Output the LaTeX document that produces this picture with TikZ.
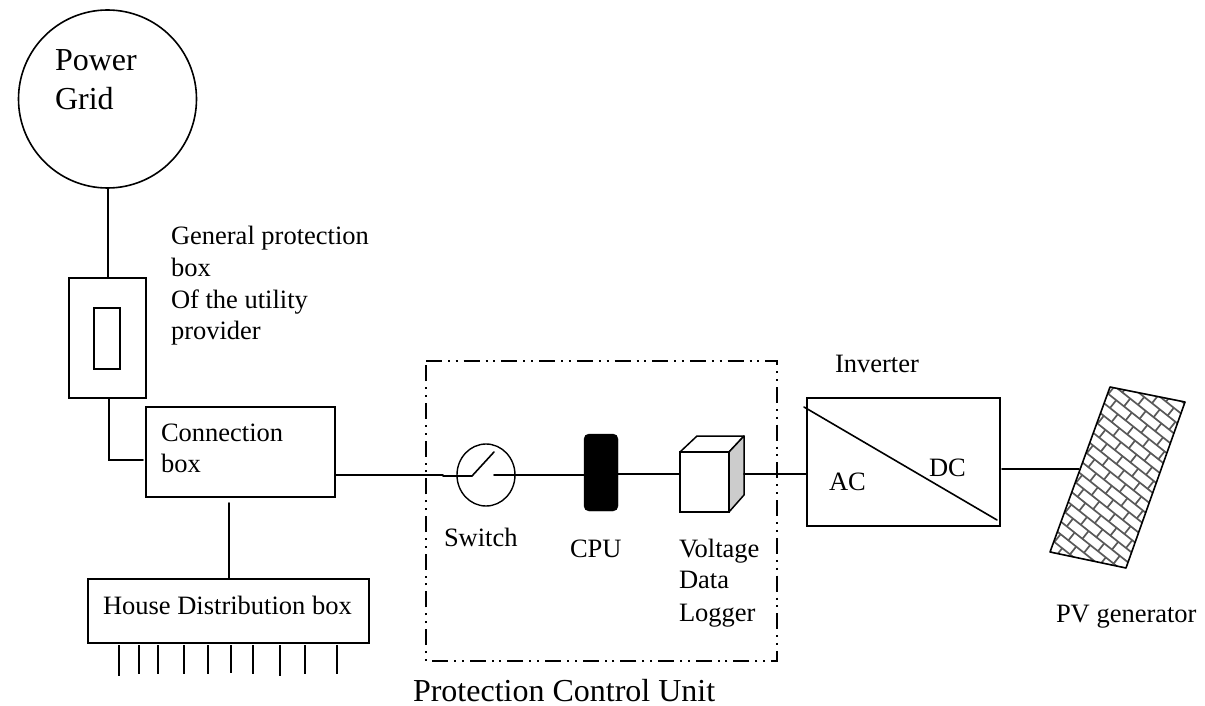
\documentclass[tikz,border=0pt]{standalone}
\usepackage{fontspec}
\setmainfont{Liberation Serif}
\usetikzlibrary{calc,shapes.geometric}
\newcommand{\fsmall}{\fontsize{26.5}{32}\selectfont}
\newcommand{\flarge}{\fontsize{32}{40}\selectfont}
\tikzset{
  wire/.style={line width=1.6pt,line cap=round},
  boxs/.style={draw,line width=1.6pt},
  lab/.style={anchor=base west,inner sep=0pt,outer sep=0pt,font=\fsmall},
  labl/.style={anchor=base west,inner sep=0pt,outer sep=0pt,font=\flarge},
  plain/.style={inner sep=0pt,outer sep=0pt},
}
\begin{document}
\begin{tikzpicture}[x=1pt,y=-1pt]
\useasboundingbox (0,0) rectangle (1205,706);
% grid
\node[draw,circle,line width=1.6pt,minimum size=178pt,plain] (grid) at (107.5,99) {};
\node[labl] (gridA) at (55,71) {Power};
\node[labl] (gridB) at (55,110) {Grid};
% general protection
\node[boxs,plain,minimum width=77pt,minimum height=120pt] (gen) at (107.5,338) {};
\node[boxs,plain,minimum width=26pt,minimum height=61pt] (genin) at (107,338.5) {};
\node[lab] (t1) at (171,244) {General protection};
\node[lab] (t2) at (171,276) {box};
\node[lab] (t3) at (171,308) {Of the utility};
\node[lab] (t4) at (171,339) {provider};
% connection box
\node[boxs,plain,minimum width=189pt,minimum height=90pt] (conn) at (240.5,452) {};
\node[lab] (t5) at (161,441) {Connection};
\node[lab] (t6) at (161,472) {box};
% house
\node[boxs,plain,minimum width=281pt,minimum height=64pt] (house) at (228.5,611) {};
\node[lab] (t7) at (103,614) {House Distribution box};
% wires
\draw[wire] (grid.south -| 108,0) -- (gen.north -| 108,0);
\coordinate (c1) at (109,460);
\coordinate (c2) at (143,460);
\draw[wire] (gen.south -| c1) -- (c1) -- (c2);
\coordinate (c3) at (229,503);
\draw[wire] (c3) -- (house.north -| c3);
\foreach \x/\e in {119/676,139/674,158/674,184/674,208/674,231/673,253/674,280/676,305/674,337/674}
  \draw[line width=1.5pt] (\x,645) -- (\x,\e);
% dash box
\node[plain,minimum width=351pt,minimum height=300pt] (pcu) at (601.5,511) {};
\draw[line width=1.7pt,dash pattern=on 16pt off 6pt on 2pt off 5.7pt on 2pt off 6pt]
  (pcu.north west) -- (pcu.north east) -- (pcu.south east) -- (pcu.south west) -- cycle;
\node[labl] (t8) at (413,701) {Protection Control Unit};
% switch
\node[draw,ellipse,plain,line width=1.4pt,minimum width=58pt,minimum height=62pt] (sw) at (486,475) {};
\coordinate (s0) at (443,475);
\coordinate (s1) at (443,476);
\coordinate (s2) at (472,476);
\coordinate (s3) at (494,452);
\coordinate (s4) at (494,475);
\draw[wire] (conn.east |- s0) -- (s0);
\draw[wire] (s1) -- (s2) -- (s3);
\node[lab] (t9) at (444,546) {Switch};
% cpu
\node[fill=black,draw,rounded corners=5pt,plain,minimum width=34pt,minimum height=77pt] (cpu) at (601,472.5) {};
\node[lab] (t10) at (570,557) {CPU};
\draw[wire] (s4) -- (cpu.west |- s4);
% logger cube
\node[boxs,plain,minimum width=49pt,minimum height=60pt,fill=white] (log) at (704.5,482) {};
\coordinate (k1) at (697,436);
\coordinate (k2) at (744,436);
\coordinate (k3) at (744,495);
\draw[line width=1.5pt,line join=round] (log.north west) -- (k1) -- (k2) -- (log.north east) -- cycle;
\draw[line width=1.5pt,line join=round,fill=black!20] (log.north east) -- (k2) -- (k3) -- (log.south east) -- cycle;
\draw[wire] (cpu.east |- 0,474) -- (log.west |- 0,474);
\node[lab] (t11) at (679,557) {Voltage};
\node[lab] (t12) at (679,588) {Data};
\node[lab] (t13) at (679,621) {Logger};
% inverter
\node[boxs,plain,minimum width=193pt,minimum height=128pt] (inv) at (903.5,462) {};
\coordinate (d1) at (804,407);
\coordinate (d2) at (997,520);
\draw[wire] (d1) -- (d2);
\node[lab] (t14) at (835,372) {Inverter};
\node[lab] (t15) at (829,490) {AC};
\node[lab] (t16) at (929,476) {DC};
\draw[wire] (k3 |- 0,474) -- (inv.west |- 0,474);
% panel
\coordinate (p1) at (1110,387);
\coordinate (p2) at (1185,402);
\coordinate (p3) at (1126,568);
\coordinate (p4) at (1050,552);
\coordinate (p5) at (1079,469);
\coordinate (i1) at (1002,469);
\begin{scope}
\clip (p1) -- (p2) -- (p3) -- (p4) -- cycle;
\begin{scope}[shift={(1118,478)},x={(0.78pt,-0.62pt)},y={(0.62pt,0.78pt)}]
  \foreach \r in {-14,...,14}{
    \pgfmathsetmacro{\ya}{\r*10}
    \draw[black!65,line width=1.7pt] (-150,\ya) -- (150,\ya);
    \pgfmathsetmacro{\off}{mod(\r+100,2)*10}
    \foreach \c in {-8,...,8}{
      \draw[black!65,line width=1.7pt] (\c*20+\off,\ya) -- (\c*20+\off,\ya+10);
    }
  }
\end{scope}
\end{scope}
\draw[line width=1.6pt,line join=round] (p1) -- (p2) -- (p3) -- (p4) -- cycle;
\draw[wire] (i1) -- (p5);
\node[lab] (t17) at (1056,622) {PV generator};
\end{tikzpicture}
\end{document}
